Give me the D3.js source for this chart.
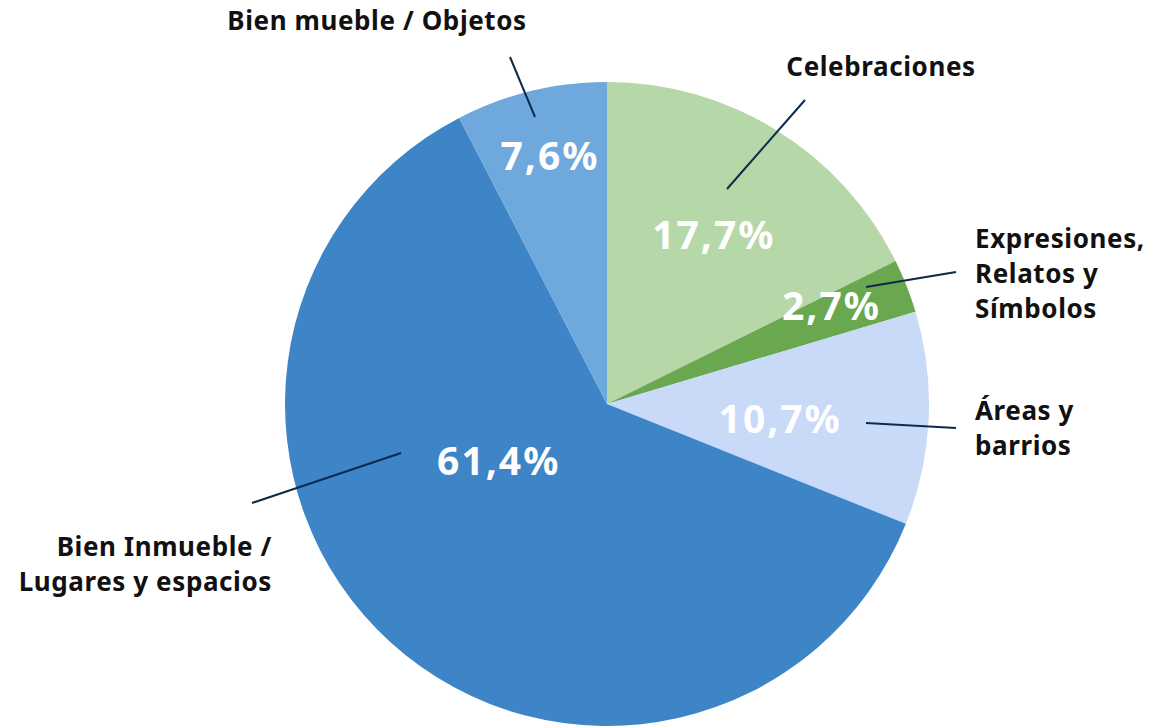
<!DOCTYPE html>
<html lang="es">
<head>
<meta charset="UTF-8">
<title>Patrimonio por categoría</title>
<style>
  body { margin: 0; background: #fff; }
  svg { display: block; font-family: "Noto Sans", "Open Sans", sans-serif; }
  .cat { font-size: 26px; font-weight: 700; fill: #111; letter-spacing: 0.6px; }
  .pct { font-size: 39px; font-weight: 700; fill: #fff; letter-spacing: 2px; }
  .lead { stroke: #0d2a4c; stroke-width: 2; fill: none; }
</style>
</head>
<body>
<svg width="1153" height="728"></svg>
<script src="https://d3js.org/d3.v7.min.js"></script>
<script>
// data, clockwise from 12 o'clock
var categories = ["Celebraciones", "Expresiones, Relatos y Símbolos", "Áreas y barrios",
                  "Bien Inmueble / Lugares y espacios", "Bien mueble / Objetos"];
var values = [17.7, 2.7, 10.7, 61.4, 7.6];
var pctLabels = ["17,7%", "2,7%", "10,7%", "61,4%", "7,6%"];
var colors = ["#b6d7a8", "#6aa84f", "#c9daf8", "#3d85c6", "#6fa8dc"];

// category text, split in lines
var catLines = [
  ["Celebraciones"],
  ["Expresiones,", "Relatos y", "Símbolos"],
  ["Áreas y", "barrios"],
  ["Bien Inmueble /", "Lugares y espacios"],
  ["Bien mueble / Objetos"]
];

var svg = d3.select("svg"),
    cx = 607, cy = 404, radius = 322;

var g = svg.append("g").attr("transform", "translate(" + cx + "," + cy + ")");

var pie = d3.pie().sort(null).value(function(d) { return d; });
var arc = d3.arc().innerRadius(0).outerRadius(radius);
var arcs = pie(values);

g.selectAll("path.slice")
  .data(arcs)
  .enter().append("path")
  .attr("class", "slice")
  .attr("d", arc)
  .attr("fill", function(d, i) { return colors[i]; });

// percent labels: polar placement (radius fraction, angle shift in degrees)
var pctPlace = [[0.62, 0.5], [0.76, -2], [0.54, 2.5], [0.38, 20], [0.79, 0.7]];
g.selectAll("text.pct")
  .data(arcs)
  .enter().append("text")
  .attr("class", "pct")
  .attr("text-anchor", "middle")
  .attr("dy", "0.35em")
  .attr("transform", function(d, i) {
    var a = (d.startAngle + d.endAngle) / 2 + pctPlace[i][1] * Math.PI / 180;
    var r = radius * pctPlace[i][0];
    return "translate(" + (r * Math.sin(a)) + "," + (-r * Math.cos(a)) + ")";
  })
  .text(function(d, i) { return pctLabels[i]; });

// leader lines (relative to centre)
var leaders = [
  [[120, -215], [198, -304]],
  [[259, -117], [349, -132]],
  [[259, 19], [349, 24]],
  [[-206, 49], [-355, 99]],
  [[-72, -287], [-97, -347]]
];
g.selectAll("line.lead")
  .data(leaders)
  .enter().append("line")
  .attr("class", "lead")
  .attr("x1", function(d) { return d[0][0]; })
  .attr("y1", function(d) { return d[0][1]; })
  .attr("x2", function(d) { return d[1][0]; })
  .attr("y2", function(d) { return d[1][1]; });

// category labels: [x, y of first baseline, anchor]
var catPlace = [[274, -328, "middle"], [368, -156, "start"], [368, 16, "start"],
                [-335, 152, "end"], [-230, -374, "middle"]];
var lineH = 35;
var cats = g.selectAll("text.cat")
  .data(catLines)
  .enter().append("text")
  .attr("class", "cat")
  .attr("text-anchor", function(d, i) { return catPlace[i][2]; })
  .attr("transform", function(d, i) {
    return "translate(" + catPlace[i][0] + "," + catPlace[i][1] + ")";
  });
cats.selectAll("tspan")
  .data(function(d) { return d; })
  .enter().append("tspan")
  .attr("x", 0)
  .attr("y", function(d, j) { return j * lineH; })
  .text(function(d) { return d; });
</script>
</body>
</html>
